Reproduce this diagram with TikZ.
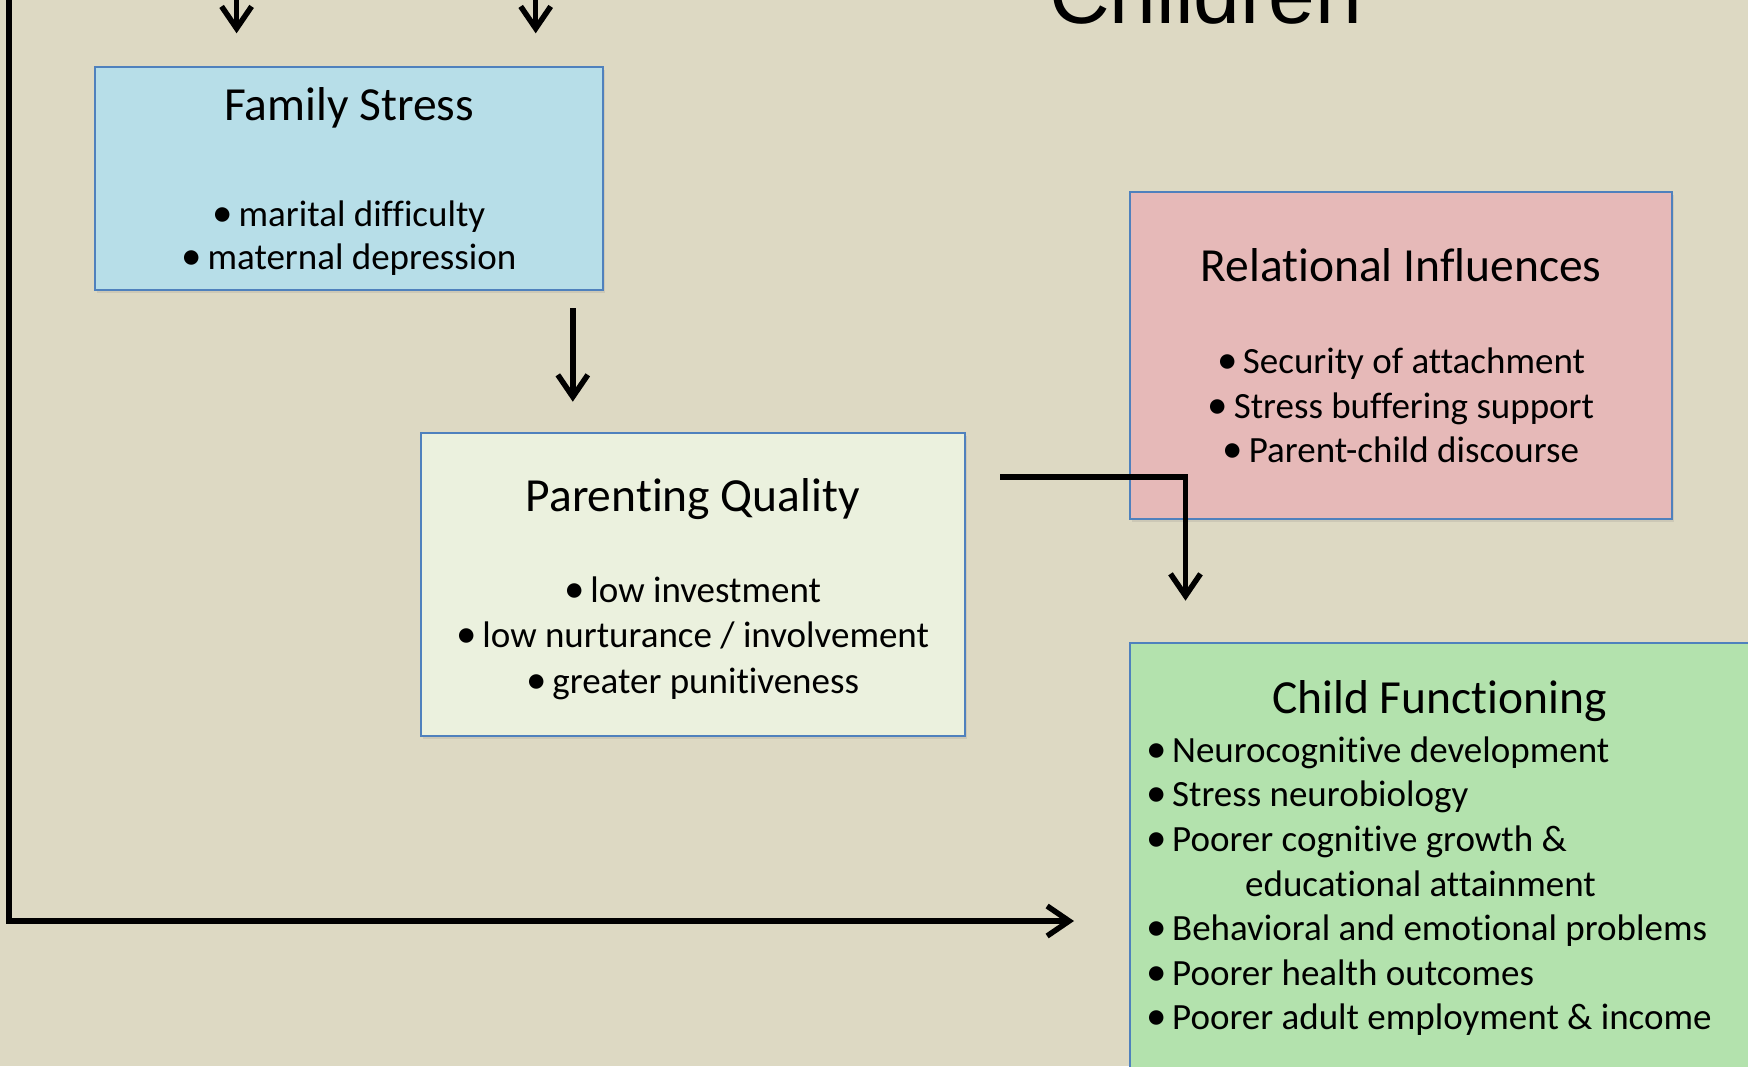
\documentclass[tikz,border=0pt]{standalone}
\usepackage{fontspec}
\setmainfont{Carlito}[Ligatures={NoCommon,NoRequired,NoContextual}]
\newfontfamily\headfont{Liberation Sans}
\usetikzlibrary{arrows.meta,shadows}

\definecolor{bgtan}{HTML}{DDD9C3}
\definecolor{edgeblue}{HTML}{4F81BD}
\definecolor{fsfill}{HTML}{B7DEE8}
\definecolor{pqfill}{HTML}{EBF1DE}
\definecolor{rifill}{HTML}{E6B9B8}
\definecolor{cffill}{HTML}{B3E2AD}

\newcommand{\blt}{{\fontsize{41}{41}\selectfont•}\hspace{5.5pt}}

\tikzset{
  panel/.style={rectangle, draw=edgeblue, line width=2pt, inner sep=0pt,
    drop shadow={opacity=0.18, shadow xshift=2pt, shadow yshift=-3pt}},
  boxtitle/.style={anchor=base, inner sep=0pt, font=\fontsize{47.5}{56}\selectfont},
  item/.style={anchor=base, inner sep=0pt, font=\fontsize{37}{44.6}\selectfont},
  itemleft/.style={item, anchor=base west},
  flow/.style={line width=5.5pt, line join=miter, -{Straight Barb[length=22pt,width=30pt]}}
}

\begin{document}
\begin{tikzpicture}[x=1pt, y=-1pt]
  \useasboundingbox (0,0) rectangle (1748,1066);
  \clip (0,0) rectangle (1748,1066);
  \fill[bgtan] (0,0) rectangle (1748,1066);

  % heading, mostly above the visible area
  \node[anchor=base, inner sep=0pt, font=\headfont\fontsize{84}{100}\selectfont]
    (heading) at (1205.5,23.5) {Children};

  % boxes
  \node[panel, fill=fsfill, minimum width=508pt, minimum height=223pt] (fs) at (349,178) {};
  \node[panel, fill=pqfill, minimum width=544.5pt, minimum height=303.5pt] (pq) at (692.75,584.25) {};
  \node[panel, fill=rifill, minimum width=542pt, minimum height=326.8pt] (ri) at (1401,355.1) {};
  \node[panel, fill=cffill, minimum width=670pt, minimum height=457pt] (cf) at (1465,871.5) {};

  % Family Stress
  \node[boxtitle] (fs-t) at (349,120) {Family Stress};
  \node[item] (fs-1) at (349,226) {\blt marital difficulty};
  \node[item] (fs-2) at (349,269.5) {\blt maternal depression};

  % Parenting Quality
  \node[boxtitle] (pq-t) at (692.75,511.5) {Parenting Quality};
  \node[item] (pq-1) at (692.75,602.5) {\blt low investment};
  \node[item] (pq-2) at (692.75,647.9) {\blt low nurturance / involvement};
  \node[item] (pq-3) at (692.75,693.2) {\blt greater punitiveness};

  % Relational Influences
  \node[boxtitle] (ri-t) at (1401,281.5) {Relational Influences};
  \node[item] (ri-1) at (1401,373.3) {\blt Security of attachment};
  \node[item] (ri-2) at (1401,418) {\blt Stress buffering support};
  \node[item] (ri-3) at (1401,462.6) {\blt Parent-child discourse};

  % Child Functioning
  \node[boxtitle] (cf-t) at (1439.5,713.3) {Child Functioning};
  \node[itemleft] (cf-1) at (1146,762.7) {\blt Neurocognitive development};
  \node[itemleft] (cf-2) at (1146,806.9) {\blt Stress neurobiology};
  \node[itemleft] (cf-3) at (1146,851.5) {\blt Poorer cognitive growth \&};
  \node[itemleft] (cf-3b) at (1245,896) {educational attainment};
  \node[itemleft] (cf-4) at (1146,940.5) {\blt Behavioral and emotional problems};
  \node[itemleft] (cf-5) at (1146,985) {\blt Poorer health outcomes};
  \node[itemleft] (cf-6) at (1146,1029.5) {\blt Poorer adult employment \& income};

  % connector end points
  \coordinate (inA) at (236.6,-10);
  \coordinate (inAend) at (236.6,33.3);
  \coordinate (inB) at (535.7,-10);
  \coordinate (inBend) at (535.7,33.3);
  \coordinate (fsout) at (572.8,308.3);
  \coordinate (pqin) at (572.8,401.7);
  \coordinate (pqout) at (1000.4,477);
  \coordinate (bend) at (1185.5,477);
  \coordinate (cfin) at (1185.5,600.7);
  \coordinate (leftin) at (8.9,-10);
  \coordinate (corner) at (8.9,921);
  \coordinate (cfside) at (1074,921);

  % connectors
  \draw[flow] (inA) -- (inAend);
  \draw[flow] (inB) -- (inBend);
  \draw[flow] (fsout) -- (pqin);
  \draw[flow] (pqout) -- (bend) -- (cfin);
  \draw[flow] (leftin) -- (corner) -- (cfside);
\end{tikzpicture}
\end{document}
